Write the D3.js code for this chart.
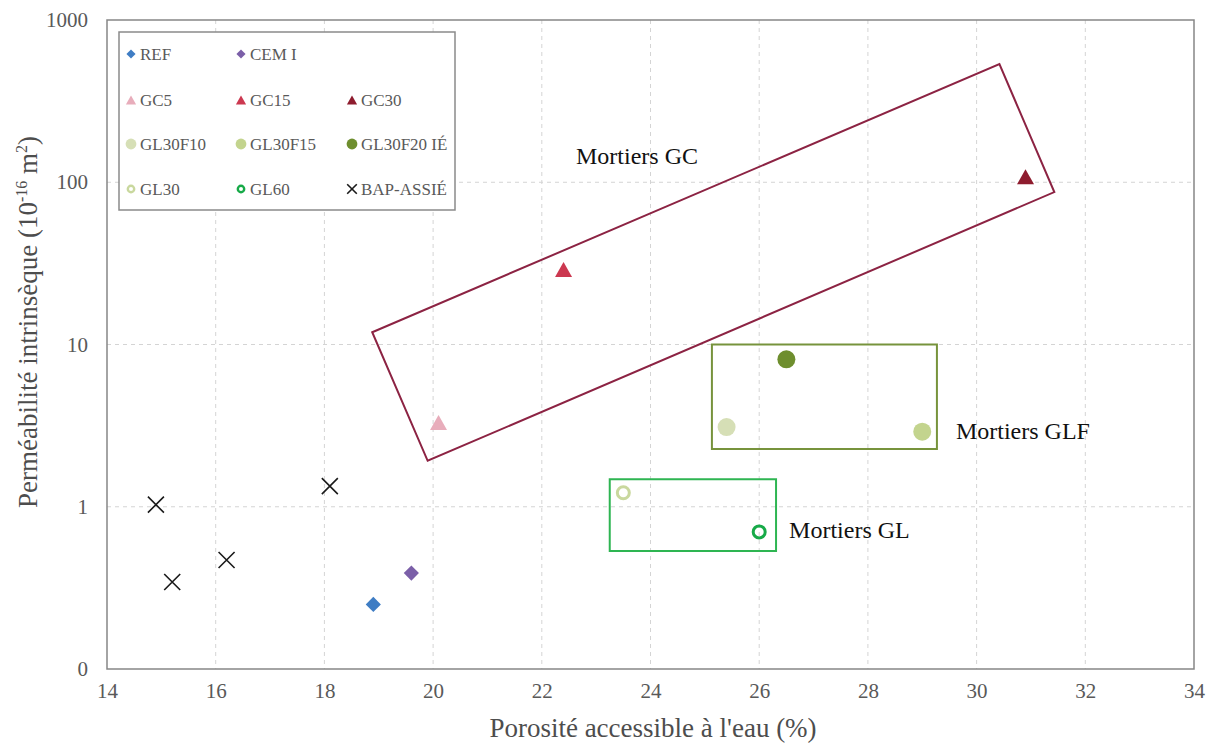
<!DOCTYPE html>
<html>
<head>
<meta charset="utf-8">
<script src="https://cdn.jsdelivr.net/npm/d3@7"></script>
<style>
  html, body { margin: 0; padding: 0; background: #fff; }
  svg, svg text { font-family: "Liberation Serif", "DejaVu Serif", serif !important; }
</style>
</head>
<body>
<svg id="chart" width="1213" height="745" font-family="Liberation Serif, DejaVu Serif, serif"></svg>
<script>
// ---------- DATA ----------
const seriesNames = ["REF", "CEM I", "GC5", "GC15", "GC30", "GL30F10", "GL30F15", "GL30F20 IÉ", "GL30", "GL60", "BAP-ASSIÉ"];
const seriesShapes = ["diamond", "diamond", "triangle", "triangle", "triangle", "circle", "circle", "circle", "ring", "ring", "cross"];
const seriesColors = ["#3f7dc4", "#7b5fa8", "#e8adbb", "#cc3850", "#8e1c2e", "#d6dfb6", "#c3d48e", "#6e8e2e", "#c9d89e", "#17aa48", "#1a1a1a"];
const seriesX = [[18.9], [19.6], [20.1], [22.4], [30.9], [25.4], [29.0], [26.5], [23.5], [26.0], [14.9, 15.2, 16.2, 18.1]];
const seriesY = [[0.25], [0.39], [3.3], [29], [108], [3.1], [2.9], [8.1], [1.22], [0.70], [1.03, 0.344, 0.47, 1.34]];

const legendRows = [["REF", "CEM I"], ["GC5", "GC15", "GC30"], ["GL30F10", "GL30F15", "GL30F20 IÉ"], ["GL30", "GL60", "BAP-ASSIÉ"]];

const xTicks = [14, 16, 18, 20, 22, 24, 26, 28, 30, 32, 34];
const yTicks = [0.1, 1, 10, 100, 1000];
const yTickLabels = ["0", "1", "10", "100", "1000"];

// annotation boxes (data coordinates)
const boxGC = [[18.88, 11.9], [30.42, 535], [31.43, 87], [19.9, 1.92]];
const boxGLF = [[25.13, 10], [29.27, 10], [29.27, 2.27], [25.13, 2.27]];
const boxGL = [[23.25, 1.48], [26.31, 1.48], [26.31, 0.533], [23.25, 0.533]];
const boxColors = ["#8c2343", "#77933c", "#2eb552"];
const noteTexts = ["Mortiers GC", "Mortiers GLF", "Mortiers GL"];
const noteX = [22.63, 29.62, 26.55];
const noteY = [130, 2.62, 0.642];

// ---------- CHART ----------
const FONT = "Liberation Serif, DejaVu Serif, serif";
const svg = d3.select("#chart");
const x = d3.scaleLinear().domain([14, 34]).range([107, 1194]);
const y = d3.scaleLog().domain([0.1, 1000]).range([669, 20]);

// gridlines
const grid = svg.append("g");
grid.selectAll("line.v").data(xTicks.slice(1, -1)).join("line")
  .attr("x1", d => x(d)).attr("x2", d => x(d))
  .attr("y1", y(1000)).attr("y2", y(0.1))
  .attr("stroke", "#d4d4d4").attr("stroke-width", 1).attr("stroke-dasharray", "4,4");
grid.selectAll("line.h").data(yTicks.slice(1, -1)).join("line")
  .attr("x1", x(14)).attr("x2", x(34))
  .attr("y1", d => y(d)).attr("y2", d => y(d))
  .attr("stroke", "#d4d4d4").attr("stroke-width", 1).attr("stroke-dasharray", "4,4");

// plot border
svg.append("rect")
  .attr("x", x(14)).attr("y", y(1000))
  .attr("width", x(34) - x(14)).attr("height", y(0.1) - y(1000))
  .attr("fill", "none").attr("stroke", "#868686").attr("stroke-width", 1.5);

// axes
const xAxis = svg.append("g").attr("transform", `translate(0,${y(0.1)})`)
  .call(d3.axisBottom(x).tickValues(xTicks).tickSize(0).tickPadding(14).tickFormat(d3.format("d")));
xAxis.attr("font-family", FONT);
xAxis.select(".domain").remove();
xAxis.selectAll("text").attr("font-size", 21).attr("fill", "#595959").attr("font-family", FONT);

const yAxis = svg.append("g").attr("transform", `translate(${x(14)},0)`)
  .call(d3.axisLeft(y).tickValues(yTicks).tickSize(0).tickPadding(19).tickFormat(d => yTickLabels[yTicks.indexOf(d)]));
yAxis.attr("font-family", FONT);
yAxis.select(".domain").remove();
yAxis.selectAll("text").attr("font-size", 21).attr("fill", "#595959").attr("font-family", FONT);

// axis titles
svg.append("text")
  .attr("x", 653).attr("y", 737)
  .attr("text-anchor", "middle").attr("font-size", 27).attr("fill", "#4d4d4d").attr("font-family", FONT)
  .text("Porosité accessible à l'eau (%)");

const yt = svg.append("text")
  .attr("transform", "translate(37,322) rotate(-90)")
  .attr("text-anchor", "middle").attr("font-size", 27).attr("fill", "#4d4d4d").attr("font-family", FONT);
yt.append("tspan").text("Perméabilité intrinsèque (10");
yt.append("tspan").attr("font-size", 16).attr("dy", -10).text("-16");
yt.append("tspan").attr("dy", 10).text(" m");
yt.append("tspan").attr("font-size", 16).attr("dy", -10).text("2");
yt.append("tspan").attr("dy", 10).text(")");

// annotation boxes
[boxGC, boxGLF, boxGL].forEach((b, i) => {
  svg.append("path")
    .attr("d", d3.line().x(p => x(p[0])).y(p => y(p[1])).curve(d3.curveLinearClosed)(b))
    .attr("fill", "none").attr("stroke", boxColors[i]).attr("stroke-width", 2);
});
svg.selectAll("text.note").data(noteTexts).join("text")
  .attr("class", "note")
  .attr("x", (d, i) => x(noteX[i])).attr("y", (d, i) => y(noteY[i]))
  .attr("font-size", 24).attr("fill", "#111").attr("font-family", FONT)
  .text(d => d);

// marker drawing
function drawMarker(g, shape, color, s) {
  if (shape === "diamond") {
    g.append("path").attr("d", d3.symbol(d3.symbolSquare, 115 * s * s)())
      .attr("transform", "rotate(45)").attr("fill", color);
  } else if (shape === "triangle") {
    const w = 17 * s, h = 15 * s;
    g.append("path").attr("d", `M0,${-h / 2}L${w / 2},${h / 2}L${-w / 2},${h / 2}Z`).attr("fill", color);
  } else if (shape === "circle") {
    g.append("circle").attr("r", 9 * s).attr("fill", color);
  } else if (shape === "ring") {
    g.append("circle").attr("r", 7 * s - 1).attr("fill", "none").attr("stroke", color).attr("stroke-width", 3 * Math.max(s, 0.8));
  } else if (shape === "cross") {
    const a = 8 * s;
    g.append("path").attr("d", `M${-a},${-a}L${a},${a}M${-a},${a}L${a},${-a}`)
      .attr("stroke", color).attr("stroke-width", 1.6).attr("fill", "none");
  }
}

// points
seriesNames.forEach((name, i) => {
  seriesX[i].forEach((xv, j) => {
    const g = svg.append("g").attr("transform", `translate(${x(xv)},${y(seriesY[i][j])})`);
    drawMarker(g, seriesShapes[i], seriesColors[i], 1);
  });
});

// legend
const legend = svg.append("g");
legend.append("rect").attr("x", 119).attr("y", 32).attr("width", 336).attr("height", 178)
  .attr("fill", "#fff").attr("stroke", "#8a8a8a").attr("stroke-width", 1.5);
const rowY = [54, 100, 144, 189];
const colX = [131, 241, 352];
legendRows.forEach((row, r) => {
  row.forEach((name, c) => {
    const i = seriesNames.indexOf(name);
    const g = legend.append("g").attr("transform", `translate(${colX[c]},${rowY[r]})`);
    drawMarker(g, seriesShapes[i], seriesColors[i], 0.6);
    g.append("text").attr("x", 9).attr("y", 6).attr("font-size", 17).attr("fill", "#595959")
      .attr("font-family", FONT).text(name);
  });
});
</script>
</body>
</html>
